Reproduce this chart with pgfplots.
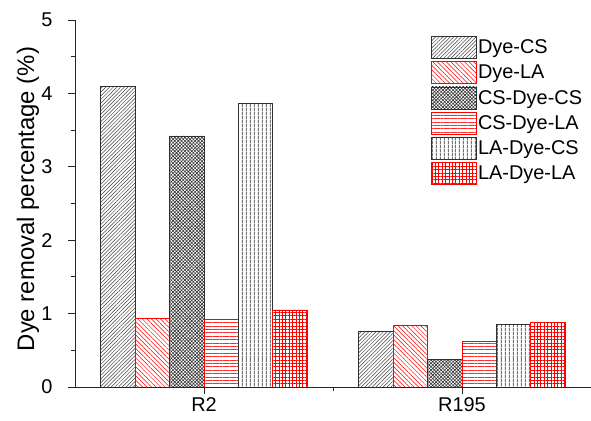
\documentclass[border=0pt]{standalone}
\usepackage{pgfplots}
\pgfplotsset{compat=1.18}
\usepackage{fontspec}
\setmainfont{Liberation Sans}
\usetikzlibrary{patterns.meta}

\definecolor{edgegray}{HTML}{303030}

\pgfplotsset{
  legbox/.style={legend image code/.code={\draw[##1] (0bp,-11bp) rectangle (45bp,11bp);}},
}

\begin{document}
\begin{tikzpicture}
\begin{axis}[
  scale only axis, width=516bp, height=367bp,
  xmin=0.5, xmax=2.5, ymin=0, ymax=5,
  axis x line*=bottom, axis y line*=left,
  axis line style={-, line width=0.9pt, black!85},
  xtick={1,2}, xticklabels={R2,R195}, minor xtick={1.5},
  ytick={0,1,2,3,4,5}, minor ytick={0.5,1.5,2.5,3.5,4.5},
  xtick align=outside, ytick align=outside,
  major tick length=7bp, minor tick length=4bp,
  every tick/.style={line width=0.9pt, black!85},
  ticklabel style={font=\fontsize{20}{24}\selectfont},
  every y tick label/.append style={xshift=-12bp},
  /pgf/number format/assume math mode=true,
  ylabel={Dye removal percentage (\%)},
  every axis y label/.style={at={(axis description cs:-0.091,0.512)}, rotate=90,
    anchor=center, font=\fontsize{24}{28}\selectfont},
  ybar, bar width=0.1333,
  legend style={at={(0.69,0.956)}, anchor=north west, draw=none, fill=none,
    inner sep=0pt, row sep=2.3bp, nodes={inner sep=1bp},
    font=\fontsize{20}{24}\selectfont},
  legend cell align=left,
  legend style={/tikz/every even column/.append style={column sep=7bp}},
]
% Dye-CS
\addplot[bar shift=-0.3333, draw=edgegray, line width=0.8pt,
  pattern={Lines[angle=45,distance=2.6bp,line width=0.5bp]}, pattern color=black!75, legbox]
  coordinates {(1,4.09) (2,0.76)};
% Dye-LA
\addplot[bar shift=-0.2, draw=red, line width=0.8pt,
  pattern={Lines[angle=-45,distance=3.2bp,line width=0.5bp]}, pattern color=red, legbox]
  coordinates {(1,0.93) (2,0.835)};
% CS-Dye-CS
\addplot[bar shift=-0.0667, draw=edgegray, line width=0.8pt,
  pattern={Hatch[angle=45,distance=2.4bp,line width=0.6bp]}, pattern color=black!80, legbox]
  coordinates {(1,3.42) (2,0.38)};
% CS-Dye-LA
\addplot[bar shift=0.0667, draw=red, line width=0.8pt,
  pattern={Lines[angle=0,distance=3.4bp,line width=0.5bp]}, pattern color=red!85, legbox]
  coordinates {(1,0.92) (2,0.62)};
% LA-Dye-CS
\addplot[bar shift=0.2, draw=edgegray, line width=0.8pt,
  pattern={Lines[angle=90,distance=3.6bp,line width=0.9bp]}, pattern color=black!55, legbox]
  coordinates {(1,3.86) (2,0.85)};
% LA-Dye-LA
\addplot[bar shift=0.3333, draw=red, line width=0.8pt,
  pattern={Hatch[angle=0,distance=3.4bp,line width=0.5bp]}, pattern color=red, legbox]
  coordinates {(1,1.05) (2,0.88)};
\legend{Dye-CS, Dye-LA, CS-Dye-CS, CS-Dye-LA, LA-Dye-CS, LA-Dye-LA}
\end{axis}
\pgfresetboundingbox
\path[use as bounding box] ([xshift=-75bp,yshift=-34bp]current axis.south west)
  rectangle ([yshift=20bp]current axis.north east);
\end{tikzpicture}
\end{document}
